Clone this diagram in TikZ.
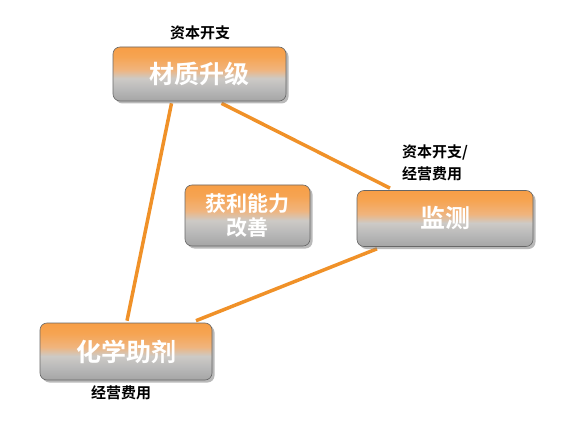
\documentclass[tikz,border=0pt]{standalone}
\usepackage{fontspec}
\newfontfamily\cjk{Noto Sans CJK SC}[BoldFont={* Bold}]
\usetikzlibrary{shadows,backgrounds}
\definecolor{boxgray}{RGB}{172,172,172}
\definecolor{linkorange}{RGB}{240,145,40}
\pgfdeclareverticalshading{btn}{100bp}{
  color(0bp)=(rgb,255:red,165;green,165;blue,165);
  color(25bp)=(rgb,255:red,165;green,165;blue,165);
  color(36bp)=(rgb,255:red,185;green,185;blue,185);
  color(46bp)=(rgb,255:red,205;green,202;blue,198);
  color(54bp)=(rgb,255:red,240;green,180;blue,125);
  color(66bp)=(rgb,255:red,246;green,164;blue,82);
  color(75bp)=(rgb,255:red,247;green,158;blue,70);
  color(100bp)=(rgb,255:red,247;green,158;blue,70)}
\tikzset{
  stepbox/.style={rounded corners=7pt, draw=boxgray!60!black, line width=0.6pt,
    shading=btn,
    drop shadow={shadow xshift=2.5pt,shadow yshift=-2.5pt,opacity=0.55},
    font=\cjk\bfseries\fontsize{25}{28}\selectfont, text=white, align=center, inner sep=0pt},
  smallbox/.style={stepbox, font=\cjk\bfseries\fontsize{21}{24}\selectfont},
  lbl/.style={font=\cjk\bfseries\fontsize{15}{22}\selectfont, text=black, inner sep=0pt},
  link/.style={draw=linkorange, line width=3.5pt}
}
\begin{document}
\begin{tikzpicture}[x=1pt,y=-1pt]
\useasboundingbox (0,0) rectangle (575,422);
\node[stepbox, minimum width=173pt, minimum height=54pt] (a) at (199.5,74) {材质升级};
\node[stepbox, minimum width=176pt, minimum height=56pt] (m) at (445,218.5) {监测};
\node[stepbox, minimum width=172pt, minimum height=57pt] (c) at (126,351.5) {化学助剂};
\node[smallbox, minimum width=125pt, minimum height=61pt] (g) at (247.5,215.5) {获利能力\\改善};
\begin{scope}[on background layer]
\draw[link] ([xshift=-28pt,yshift=-2pt]a.south) -- ([xshift=1pt,yshift=2pt]c.north);
\draw[link] ([xshift=22pt,yshift=-2pt]a.south) -- ([xshift=-55pt,yshift=2pt]m.north);
\draw[link] ([xshift=-68pt,yshift=-2pt]m.south) -- ([xshift=70pt,yshift=2pt]c.north);
\end{scope}
\node[lbl] (la) at (200,33) {资本开支};
\node[lbl, align=left, anchor=west] (lm) at (402,163) {资本开支/\\经营费用};
\node[lbl] (lc) at (121,393) {经营费用};
\end{tikzpicture}
\end{document}
